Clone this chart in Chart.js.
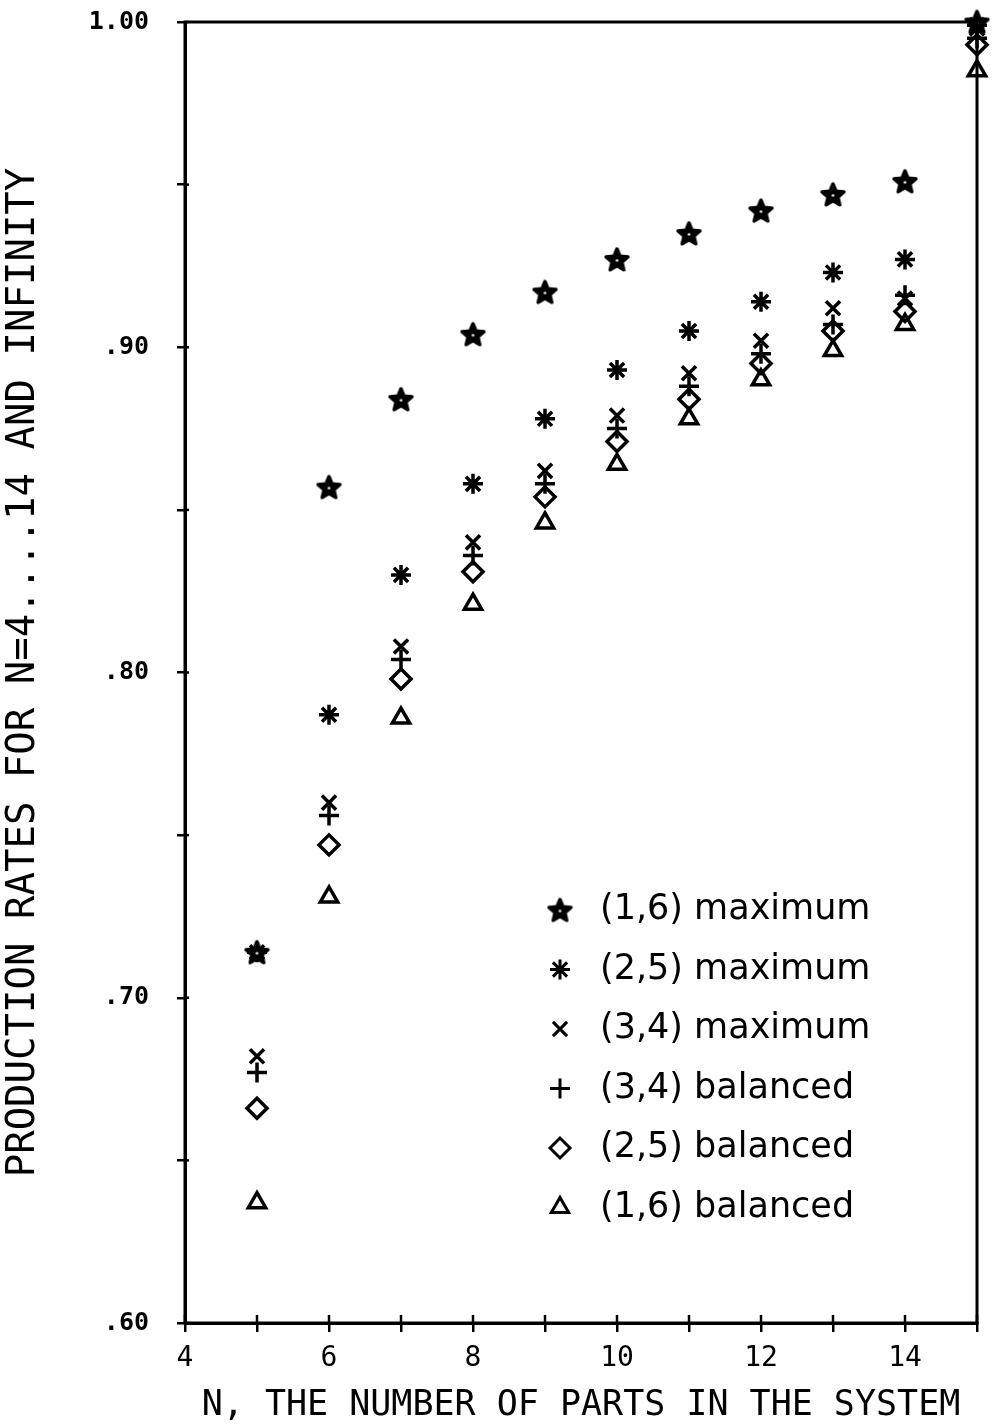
<!DOCTYPE html>
<html>
<head>
<meta charset="utf-8">
<script src="https://cdn.jsdelivr.net/npm/chart.js@4/dist/chart.umd.min.js"></script>
<style>
  html, body { margin: 0; padding: 0; background: #fff; }
  #wrap { width: 992px; height: 1427px; }
</style>
</head>
<body>
<div id="wrap"><canvas id="chart" width="992" height="1427"></canvas></div>
<script>
// N values (15 stands for "infinity" at the right edge)
const nValues = [5, 6, 7, 8, 9, 10, 11, 12, 13, 14, 15];

const max16 = [0.714, 0.857, 0.884, 0.904, 0.917, 0.927, 0.935, 0.942, 0.947, 0.951, 1.000];
const max25 = [0.714, 0.787, 0.830, 0.858, 0.878, 0.893, 0.905, 0.914, 0.923, 0.927, 0.999];
const max34 = [0.682, 0.760, 0.808, 0.840, 0.862, 0.879, 0.892, 0.902, 0.912, 0.915, 0.998];
const bal34 = [0.677, 0.756, 0.804, 0.836, 0.858, 0.875, 0.888, 0.898, 0.907, 0.916, 0.995];
const bal25 = [0.666, 0.747, 0.798, 0.831, 0.854, 0.871, 0.884, 0.895, 0.905, 0.911, 0.993];
const bal16 = [0.637, 0.731, 0.786, 0.821, 0.846, 0.864, 0.878, 0.890, 0.899, 0.907, 0.985];

const seriesLabels = ["(1,6) maximum", "(2,5) maximum", "(3,4) maximum",
                      "(3,4) balanced", "(2,5) balanced", "(1,6) balanced"];

const xLabelled = [4, 6, 8, 10, 12, 14];
const yLabelled = [0.6, 0.7, 0.8, 0.9, 1.0];

// five point star marker drawn on a small canvas
function makeStar(size) {
    const c = document.createElement("canvas");
    c.width = size; c.height = size;
    const g = c.getContext("2d");
    const cx = size / 2, cy = size / 2 + 1;
    const ro = size / 2 - 2, ri = ro * 0.45;
    g.beginPath();
    for (let i = 0; i < 10; i++) {
        const r = i % 2 === 0 ? ro : ri;
        const a = -Math.PI / 2 + i * Math.PI / 5;
        const px = cx + r * Math.cos(a), py = cy + r * Math.sin(a);
        if (i === 0) g.moveTo(px, py); else g.lineTo(px, py);
    }
    g.closePath();
    g.lineJoin = "round";
    g.lineWidth = 3.5;
    g.strokeStyle = "#000";
    g.fillStyle = "#000";
    g.fill();
    g.stroke();
    g.fillStyle = "#fff";
    g.beginPath(); g.arc(cx, cy, 1.3, 0, Math.PI * 2); g.fill();
    return c;
}
const starImg = makeStar(27);

const styles = [starImg, "star", "crossRot", "cross", "rectRot", "triangle"];
const radii = [11, 10, 10, 10, 10, 10];
const seriesData = [max16, max25, max34, bal34, bal25, bal16];

const datasets = seriesData.map((vals, i) => ({
    label: seriesLabels[i],
    data: vals.map((v, j) => ({ x: nValues[j], y: v })),
    showLine: false,
    clip: false,
    pointStyle: styles[i],
    pointRadius: radii[i],
    pointHoverRadius: radii[i],
    pointBorderColor: "#000",
    pointBackgroundColor: "rgba(0,0,0,0)",
    pointBorderWidth: 3.5
}));

// frame, inward tick marks and the in-plot legend
const framePlugin = {
    id: "frame",
    afterDraw(chart) {
        const ctx = chart.ctx;
        const a = chart.chartArea;
        ctx.save();
        ctx.strokeStyle = "#000";
        ctx.lineWidth = 3;
        ctx.strokeRect(a.left, a.top, a.right - a.left, a.bottom - a.top);

        ctx.lineWidth = 2.5;
        const xs = chart.scales.x, ys = chart.scales.y;
        xs.ticks.forEach(t => {
            const px = xs.getPixelForValue(t.value);
            ctx.beginPath(); ctx.moveTo(px, a.bottom); ctx.lineTo(px, a.bottom - 8); ctx.stroke();
        });
        ys.ticks.forEach(t => {
            const py = ys.getPixelForValue(t.value);
            ctx.beginPath(); ctx.moveTo(a.left, py); ctx.lineTo(a.left + 4, py); ctx.stroke();
        });

        // legend
        const lx = a.left + 375, tx = a.left + 415;
        let ly = a.top + 888;
        ctx.font = "35px 'DejaVu Sans'";
        ctx.textBaseline = "middle";
        chart.data.datasets.forEach(ds => {
            ctx.strokeStyle = "#000";
            ctx.fillStyle = "rgba(0,0,0,0)";
            ctx.lineWidth = 3;
            if (Chart.helpers && Chart.helpers.drawPoint) {
                Chart.helpers.drawPoint(ctx, {
                    pointStyle: ds.pointStyle, radius: 10, rotation: 0, borderWidth: 3
                }, lx, ly);
            }
            ctx.fillStyle = "#000";
            ctx.fillText(ds.label, tx, ly);
            ly += 59.5;
        });
        ctx.restore();
    }
};

new Chart(document.getElementById("chart"), {
    type: "scatter",
    data: { datasets: datasets },
    options: {
        responsive: false,
        animation: false,
        events: [],
        layout: { autoPadding: false, padding: { top: 22, right: 15, left: 0, bottom: 0 } },
        plugins: { legend: { display: false }, tooltip: { enabled: false } },
        scales: {
            x: {
                type: "linear",
                min: 4, max: 15,
                afterFit: s => { s.height = 104; s.paddingLeft = 0; s.paddingRight = 0; },
                ticks: {
                    stepSize: 1,
                    autoSkip: false,
                    maxRotation: 0,
                    padding: 10,
                    color: "#000",
                    font: { family: "'DejaVu Sans Mono'", size: 28 },
                    callback: v => xLabelled.includes(v) ? String(v) : ""
                },
                grid: { drawOnChartArea: false, tickLength: 9, color: "#000", lineWidth: 2.5 },
                border: { color: "#000", width: 3 },
                title: {
                    display: true,
                    text: "N, THE NUMBER OF PARTS IN THE SYSTEM",
                    color: "#000",
                    font: { family: "'DejaVu Sans Mono'", size: 35 },
                    padding: { top: 0, bottom: 0 }
                }
            },
            y: {
                min: 0.6, max: 1.0,
                afterFit: s => { s.width = 185; s.paddingTop = 0; s.paddingBottom = 0; },
                ticks: {
                    stepSize: 0.05,
                    autoSkip: false,
                    padding: 28,
                    color: "#000",
                    font: { family: "'DejaVu Sans Mono'", size: 25, weight: "bold" },
                    callback: v => {
                        const r = Math.round(v * 100) / 100;
                        if (!yLabelled.some(l => Math.abs(l - r) < 1e-6)) return "";
                        return r >= 1 ? "1.00" : "." + Math.round(r * 100);
                    }
                },
                grid: { drawOnChartArea: false, tickLength: 8, color: "#000", lineWidth: 2.5 },
                border: { color: "#000", width: 3 },
                title: {
                    display: true,
                    text: "PRODUCTION RATES FOR N=4....14 AND INFINITY",
                    color: "#000",
                    font: { family: "'DejaVu Sans Mono'", size: 39 },
                    padding: { top: 0, bottom: 0 }
                }
            }
        }
    },
    plugins: [framePlugin]
});
</script>
</body>
</html>
